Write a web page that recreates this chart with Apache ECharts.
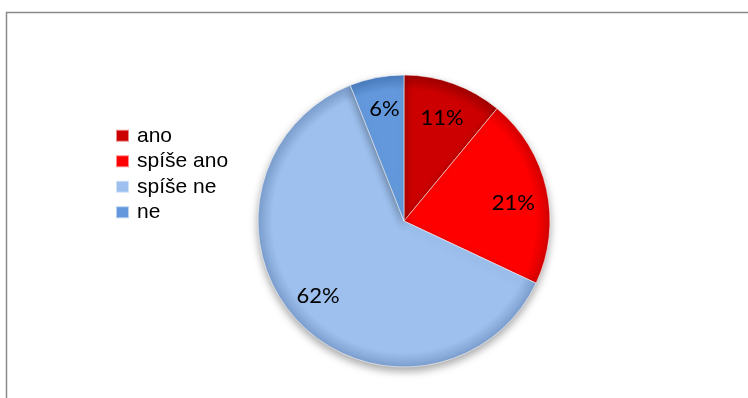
<!DOCTYPE html>
<html>
<head>
<meta charset="utf-8">
<script src="https://cdn.jsdelivr.net/npm/echarts@6/dist/echarts.min.js"></script>
<style>
  html, body { margin: 0; padding: 0; background: #fff; }
  #chart { width: 748px; height: 398px; }
</style>
</head>
<body>
<div id="chart"></div>
<script>
// Answer categories and their shares (percent)
const categories = ['ano', 'spíše ano', 'spíše ne', 'ne'];
const values = [11, 21, 62, 6];
const colors = ['#CC0000', '#FF0000', '#9DC0EE', '#6399DC'];
const rimColors = ['#A00000', '#D40000', '#7C9FCF', '#4A7DBF'];
// small nudges of each percentage label, in pixels
const labelNudge = [[-1, 5], [-3, 7], [-2, -4], [2, 1]];

const CX = 404, CY = 221, R = 146;

function sliceFill(i) {
  return {
    type: 'radial', x: CX, y: CY, r: R, global: true,
    colorStops: [
      { offset: 0, color: colors[i] },
      { offset: 0.9, color: colors[i] },
      { offset: 1, color: rimColors[i] }
    ]
  };
}

const pieData = categories.map((name, i) => ({
  name, value: values[i],
  itemStyle: { color: sliceFill(i) }
}));

const labelData = categories.map((name, i) => ({
  name, value: values[i],
  label: { offset: labelNudge[i] }
}));

const chart = echarts.init(document.getElementById('chart'), null, { renderer: 'canvas' });

chart.setOption({
  animation: false,
  color: colors,
  graphic: [{
    type: 'rect',
    shape: { x: 6.5, y: 12.5, width: 900, height: 600 },
    style: { fill: 'none', stroke: '#8a8a8a', lineWidth: 1.5 },
    silent: true, z: -10
  }],
  legend: {
    orient: 'vertical',
    left: 110,
    top: 118,
    itemWidth: 13,
    itemHeight: 12,
    itemGap: 0,
    icon: 'rect',
    data: categories.map((name, i) => ({ name, itemStyle: { color: colors[i] } })),
    textStyle: {
      fontFamily: 'Liberation Sans, Arial, sans-serif',
      fontSize: 21,
      color: '#000',
      lineHeight: 25.5,
      padding: [0, 0, 0, 3]
    },
    selectedMode: false
  },
  series: [
    {
      type: 'pie',
      center: [CX, CY],
      radius: [0, R],
      startAngle: 90,
      clockwise: true,
      data: pieData,
      label: { show: false },
      labelLine: { show: false },
      itemStyle: {
        borderColor: 'rgba(255,255,255,0.55)',
        borderWidth: 1,
        shadowBlur: 8,
        shadowOffsetY: 4,
        shadowColor: 'rgba(0,0,0,0.35)'
      },
      emphasis: { disabled: true }
    },
    {
      // label ring: places the percentages about three quarters of the way out
      type: 'pie',
      center: [CX, CY],
      radius: [78, R],
      startAngle: 90,
      clockwise: true,
      silent: true,
      data: labelData,
      itemStyle: { color: 'rgba(0,0,0,0)' },
      label: {
        show: true,
        position: 'inside',
        formatter: p => p.value + '%',
        fontFamily: 'Lato, Liberation Sans, sans-serif',
        fontSize: 22,
        color: '#000'
      },
      labelLine: { show: false },
      emphasis: { disabled: true }
    }
  ]
});
</script>
</body>
</html>
